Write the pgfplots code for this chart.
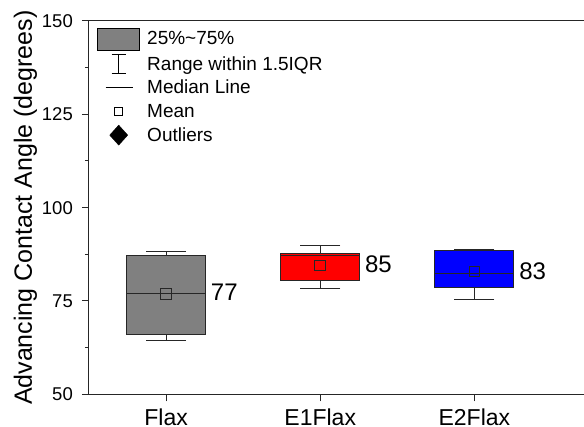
\documentclass[border=0pt]{standalone}
\usepackage{pgfplots}
\pgfplotsset{compat=1.18}
\usepgfplotslibrary{statistics}
\usepackage{fontspec}
\setmainfont{Liberation Sans}
\begin{document}
\begin{tikzpicture}
\begin{axis}[name=ax,
  scale only axis, width=495pt, height=373.3pt,
  xmin=0.5, xmax=3.711, ymin=50, ymax=150,
  axis x line*=bottom, axis y line*=left,
  axis line style={line width=1pt, black!85},
  ytick={50,75,100,125,150}, minor y tick num=1,
  xtick={1,2,3}, xticklabels={Flax,E1Flax,E2Flax},
  tick align=outside, major tick length=7pt, minor tick length=4pt,
  tick style={line width=1pt, black!85},
  /pgf/number format/assume math mode=true,
  yticklabel style={font=\fontsize{18.5}{18.5}\selectfont, inner sep=0pt, xshift=-9pt},
  xticklabel style={font=\fontsize{23}{23}\selectfont, inner sep=0pt, yshift=-7pt},
  ylabel={Advancing Contact Angle (degrees)},
  ylabel style={font=\fontsize{25}{25}\selectfont, inner sep=0pt, at={(axis description cs:-0.1044,0.5)}, anchor=south},
  legend style={at={(axis description cs:0.0162,0.983)}, anchor=north west, draw=none, fill=none,
    font=\fontsize{19}{19}\selectfont, cells={anchor=west}, nodes={inner sep=0pt}, column sep=7pt, row sep=3.6pt, inner sep=0pt},
  boxplot/every median/.style={draw=black!85, line width=1pt},
]
\addlegendimage{legend image code/.code={\draw[fill=gray,draw=black,line width=1pt] (0pt,-11pt) rectangle (42pt,11pt);}}
\addlegendentry{25\%\textasciitilde75\%}
\addlegendimage{legend image code/.code={\path[draw=none,fill=none] (0pt,-10pt) rectangle (42pt,10pt); \draw[black,line width=1pt] (14pt,9.5pt)--(28pt,9.5pt) (21pt,9.5pt)--(21pt,-9.5pt) (14pt,-9.5pt)--(28pt,-9.5pt);}}
\addlegendentry{Range within 1.5IQR}
\addlegendimage{legend image code/.code={\path[draw=none,fill=none] (0pt,-10pt) rectangle (42pt,10pt); \draw[black,line width=1pt] (8pt,0pt)--(35pt,0pt);}}
\addlegendentry{Median Line}
\addlegendimage{legend image code/.code={\path[draw=none,fill=none] (0pt,-10pt) rectangle (42pt,10pt); \draw[black,fill=white,line width=0.8pt] (17pt,-4pt) rectangle (25pt,4pt);}}
\addlegendentry{Mean}
\addlegendimage{legend image code/.code={\path[draw=none,fill=none] (0pt,-10pt) rectangle (42pt,10pt); \fill[black] (21pt,10pt)--(30pt,0pt)--(21pt,-10pt)--(12pt,0pt)--cycle;}}
\addlegendentry{Outliers}

\addplot+[fill=gray, draw=black!85, line width=1pt, mark=none, solid,
  boxplot/draw direction=y,
  boxplot prepared={lower whisker=64.5, lower quartile=66.07, median=77.06, upper quartile=87.05, upper whisker=88.2, draw position=1, box extend=0.512, whisker extend=0.26}] coordinates {};
\addplot+[fill=red, draw=black!85, line width=1pt, mark=none, solid,
  boxplot/draw direction=y,
  boxplot prepared={lower whisker=78.3, lower quartile=80.35, median=87.2, upper quartile=87.77, upper whisker=89.9, draw position=2, box extend=0.512, whisker extend=0.26}] coordinates {};
\addplot+[fill=blue, draw=black!85, line width=1pt, mark=none, solid,
  boxplot/draw direction=y,
  boxplot prepared={lower whisker=75.45, lower quartile=78.66, median=82.4, upper quartile=88.47, upper whisker=88.84, draw position=3, box extend=0.512, whisker extend=0.26}] coordinates {};
\addplot[only marks, mark=square, mark size=5.3pt, mark options={draw=black!85, line width=0.9pt, fill=none}]
  coordinates {(1,76.9) (2,84.56) (3,82.95)};
\addplot[draw=none, mark=none, nodes near coords, point meta=explicit symbolic,
  nodes near coords style={anchor=west, inner sep=0pt, font=\fontsize{24}{24}\selectfont}]
  coordinates {(1.29,77.4)[77] (2.29,84.9)[85] (3.29,83.05)[83]};
\end{axis}
\draw[line width=1pt,black!85] (ax.north west) -- (ax.north east);
\pgfresetboundingbox
\path[use as bounding box] ([xshift=-89pt,yshift=-32.7pt]ax.south west) rectangle ([yshift=21pt]ax.north east);
\end{tikzpicture}
\end{document}
